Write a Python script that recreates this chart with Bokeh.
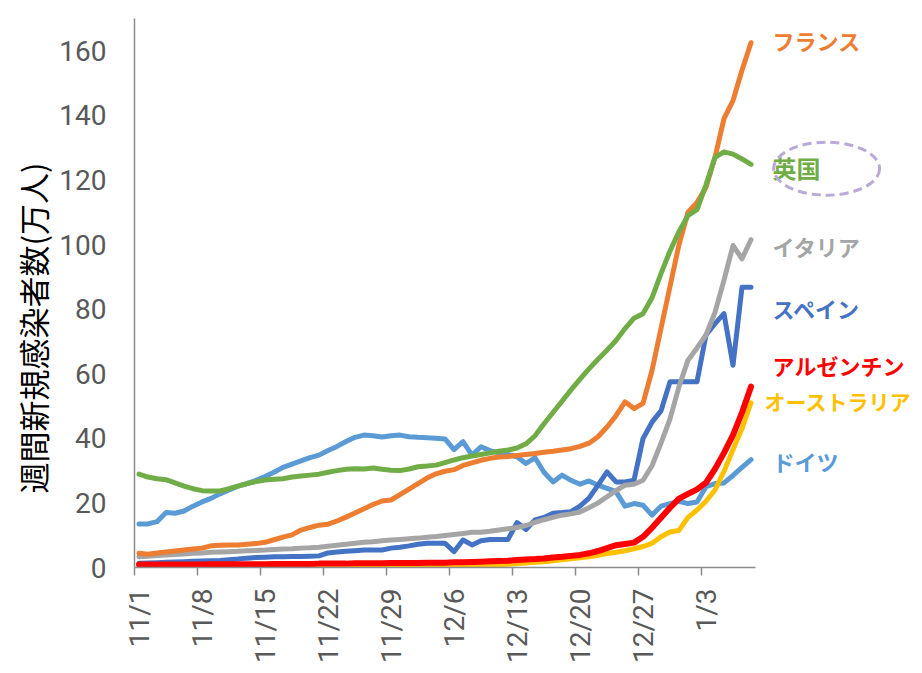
import math
from bokeh.plotting import figure
from bokeh.models import (Range1d, LinearAxis, FixedTicker, CustomJSTickFormatter,
                          Title, ColumnDataSource)
from bokeh.embed import file_html
from bokeh.resources import INLINE
from bokeh.core.properties import value

# Weekly new infections (10k people), daily from 11/1 to 1/8
france = [4.4, 4.1, 4.5, 4.8, 5.1, 5.4, 5.7, 6.0, 6.7, 6.9, 7.0, 7.0, 7.2, 7.4, 7.8, 8.6, 9.4,
          10.1, 11.6, 12.4, 13.1, 13.4, 14.4, 15.6, 16.9, 18.2, 19.5, 20.6, 20.9, 22.6, 24.3,
          26.0, 27.7, 29.0, 29.8, 30.3, 31.6, 32.4, 33.2, 33.8, 34.2, 34.4, 34.7, 35.0, 35.3,
          35.7, 36.0, 36.4, 36.8, 37.5, 38.5, 40.5, 43.5, 47.0, 51.3, 49.2, 50.8, 61.0, 74.0,
          87.0, 100.0, 110.0, 113.0, 117.7, 127.0, 139.0, 144.6, 154.0, 162.5]
uk = [28.9, 28.0, 27.5, 27.2, 26.2, 25.2, 24.4, 23.8, 23.7, 23.7, 24.4, 25.2, 26.0, 26.6, 27.1,
      27.3, 27.5, 28.0, 28.3, 28.6, 28.9, 29.5, 30.0, 30.4, 30.6, 30.5, 30.8, 30.4, 30.1, 30.0,
      30.5, 31.2, 31.4, 31.7, 32.5, 33.3, 34.0, 34.5, 35.0, 35.5, 36.0, 36.4, 37.0, 38.3, 40.8,
      44.5, 48.0, 51.5, 55.0, 58.3, 61.5, 64.5, 67.3, 70.3, 74.0, 77.2, 78.6, 83.5, 91.0, 98.0,
      104.0, 109.0, 110.8, 118.5, 127.0, 128.7, 128.0, 126.5, 124.8]
italy = [3.3, 3.5, 3.7, 3.9, 4.0, 4.2, 4.4, 4.5, 4.7, 4.8, 4.9, 5.0, 5.2, 5.3, 5.4, 5.6, 5.7,
         5.8, 6.0, 6.1, 6.3, 6.6, 6.9, 7.2, 7.5, 7.8, 8.0, 8.3, 8.5, 8.7, 8.9, 9.1, 9.4, 9.6,
         9.9, 10.2, 10.5, 10.9, 10.9, 11.2, 11.6, 12.0, 12.4, 13.0, 14.0, 14.8, 15.5, 16.2, 16.6,
         17.2, 18.5, 20.0, 21.9, 23.8, 25.5, 25.8, 27.0, 31.5, 38.5, 46.0, 56.0, 64.2, 68.0,
         72.0, 79.0, 89.0, 99.7, 95.6, 101.5]
spain = [1.3, 1.4, 1.5, 1.6, 1.7, 1.8, 1.9, 2.0, 2.1, 2.2, 2.4, 2.6, 2.9, 3.1, 3.2, 3.3, 3.3,
         3.4, 3.4, 3.5, 3.6, 4.5, 4.8, 5.0, 5.2, 5.4, 5.4, 5.4, 6.0, 6.3, 6.7, 7.2, 7.5, 7.5, 7.5,
         4.9, 8.5, 7.0, 8.3, 8.7, 8.7, 8.7, 13.9, 11.8, 14.7, 15.5, 16.8, 17.0, 17.3, 19.0, 21.5,
         25.5, 29.6, 26.5, 26.5, 27.0, 39.9, 45.0, 48.5, 57.5, 57.5, 57.5, 57.5, 72.0, 75.5,
         78.6, 62.6, 86.8, 86.8]
argentina = [0.9, 0.9, 0.9, 0.9, 0.9, 0.9, 0.9, 0.9, 1.0, 1.0, 1.0, 1.0, 1.0, 1.0, 1.0, 1.1,
             1.1, 1.1, 1.1, 1.1, 1.2, 1.2, 1.2, 1.2, 1.3, 1.3, 1.3, 1.3, 1.4, 1.4, 1.4, 1.4, 1.5,
             1.5, 1.5, 1.6, 1.6, 1.7, 1.8, 1.9, 2.0, 2.1, 2.3, 2.5, 2.6, 2.8, 3.1, 3.3, 3.6, 3.9,
             4.4, 5.1, 6.0, 6.9, 7.3, 7.7, 9.5, 12.3, 15.4, 18.5, 21.3, 22.8, 24.2, 26.3, 30.5,
             35.5, 41.0, 48.0, 56.0]
australia = [0.1, 0.1, 0.1, 0.1, 0.1, 0.1, 0.1, 0.1, 0.1, 0.1, 0.1, 0.1, 0.1, 0.1, 0.1, 0.1,
             0.1, 0.1, 0.1, 0.2, 0.2, 0.2, 0.2, 0.2, 0.2, 0.3, 0.3, 0.3, 0.3, 0.3, 0.4, 0.4, 0.4,
             0.4, 0.5, 0.5, 0.6, 0.6, 0.7, 0.8, 0.9, 1.0, 1.2, 1.4, 1.6, 1.8, 2.1, 2.4, 2.7, 3.0,
             3.3, 3.8, 4.3, 4.7, 5.2, 5.8, 6.5, 7.5, 9.5, 11.0, 11.5, 15.5, 17.8, 20.5, 24.0,
             29.8, 36.5, 43.0, 51.0]
germany = [13.5, 13.5, 14.2, 17.0, 16.8, 17.5, 19.0, 20.3, 21.4, 22.8, 24.0, 25.2, 26.0, 27.0,
           28.2, 29.5, 31.0, 32.0, 33.0, 34.0, 34.8, 36.2, 37.5, 39.0, 40.3, 41.0, 40.8, 40.4,
           40.8, 41.0, 40.5, 40.3, 40.2, 40.0, 39.8, 36.5, 39.0, 34.8, 37.4, 36.2, 35.5, 35.0,
           34.3, 32.2, 34.0, 29.5, 26.5, 28.6, 27.0, 25.8, 26.8, 25.5, 24.5, 23.5, 19.0, 19.8,
           19.3, 16.2, 19.0, 19.8, 20.5, 19.8, 20.3, 25.0, 26.0, 26.2, 28.5, 31.0, 33.4]

date_labels = ["11/1", "11/8", "11/15", "11/22", "11/29", "12/6", "12/13", "12/20", "12/27", "1/3"]
y_ticks = [0, 20, 40, 60, 80, 100, 120, 140, 160]

names = ["フランス", "英国", "イタリア", "スペイン", "アルゼンチン", "オーストラリア", "ドイツ"]
colors = ["#ED7D31", "#70AD47", "#A5A5A5", "#4472C4", "#FF0000", "#FFC000", "#5B9BD5"]

n_days = len(france)
days = [i + 0.5 for i in range(n_days)]   # each day sits in the middle of its slot

AXIS_GREY = "#8C8C8C"
TICK_TEXT = "#595959"

p = figure(width=922, height=673, output_backend="svg", toolbar_location=None,
           x_range=Range1d(0, 786 / 9), y_range=Range1d(0, 170),
           x_axis_location=None, y_axis_location=None,
           min_border_left=134, min_border_right=2, min_border_top=18, min_border_bottom=106)
p.outline_line_color = None
p.background_fill_color = "white"
p.border_fill_color = "white"
p.grid.visible = False

# y axis
yaxis = LinearAxis(ticker=FixedTicker(ticks=y_ticks), bounds=(0, 170))
yaxis.axis_line_color = AXIS_GREY
yaxis.axis_line_width = 1.5
yaxis.major_tick_line_color = None
yaxis.minor_tick_line_color = None
yaxis.major_tick_out = 0
yaxis.major_tick_in = 0
yaxis.major_label_standoff = 28
yaxis.major_label_text_font = "Roboto"
yaxis.major_label_text_font_size = "28px"
yaxis.major_label_text_color = TICK_TEXT
p.add_layout(yaxis, "left")

# x axis: weekly tick marks at slot edges, date labels centred on their day
week_ticks = [7 * k for k in range(len(date_labels))]
label_ticks = [t + 0.5 for t in week_ticks]
xaxis = LinearAxis(ticker=FixedTicker(ticks=label_ticks, minor_ticks=week_ticks),
                   bounds=(0, n_days))
xaxis.axis_line_color = AXIS_GREY
xaxis.axis_line_width = 1.5
xaxis.major_tick_line_color = None
xaxis.major_tick_out = 0
xaxis.major_tick_in = 0
xaxis.minor_tick_line_color = AXIS_GREY
xaxis.minor_tick_line_width = 1.5
xaxis.minor_tick_out = 8
xaxis.minor_tick_in = 0
xaxis.major_label_standoff = 13
xaxis.major_label_orientation = math.pi / 2
xaxis.major_label_text_font = "Roboto"
xaxis.major_label_text_font_size = "28px"
xaxis.major_label_text_color = TICK_TEXT
xaxis.formatter = CustomJSTickFormatter(args=dict(labels=date_labels),
                                        code="return labels[Math.round((tick - 0.5) / 7)];")
p.add_layout(xaxis, "below")

# series
series = [germany, spain, italy, france, uk, australia, argentina]
series_colors = ["#5B9BD5", "#4472C4", "#A5A5A5", "#ED7D31", "#70AD47", "#FFC000", "#FF0000"]
for vals, col in zip(series, series_colors):
    lw = 6 if col == "#FF0000" else 5
    p.line(days, vals, line_color=col, line_width=lw, line_join="round", line_cap="round")

# series names at the right
lab_x = [70.9, 70.9, 70.9, 70.9, 70.9, 70.0, 70.9]
lab_y = [163.2, 123.8, 99.7, 80.3, 62.8, 51.5, 33.0]
lab_size = ["22px", "24px", "22px", "22px", "22px", "21px", "22px"]
src = ColumnDataSource(dict(x=lab_x, y=lab_y, text=names, color=colors, size=lab_size))
p.text(x="x", y="y", text="text", text_color="color", text_font_size="size", source=src,
       text_font=value("Noto Sans CJK JP"), text_font_style="bold",
       text_align="left", text_baseline="middle")

# highlight around 英国
p.ellipse(x=[76.9], y=[123.5], width=[106], height=[53], width_units="screen",
          height_units="screen", fill_color=None, line_color="#B9A9D9", line_width=3,
          line_dash="9 5")

# y axis title, starting a little above the x axis
p.add_layout(Title(text="週間新規感染者数(万人)", align="left", offset=74, standoff=3,
                   text_font="Noto Sans CJK JP", text_font_size="31px",
                   text_font_style="normal", text_color="#000000"), "left")

open("out.html", "w").write(file_html(p, INLINE))
